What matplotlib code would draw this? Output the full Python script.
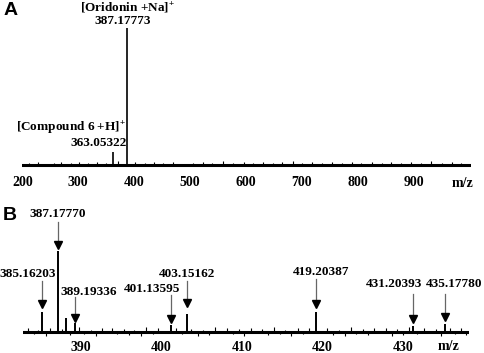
import numpy as np
import matplotlib
matplotlib.use('Agg')
import matplotlib.pyplot as plt

plt.rcParams['font.family'] = 'Liberation Serif'
plt.rcParams['font.weight'] = 'bold'
plt.rcParams['mathtext.fontset'] = 'custom'
plt.rcParams['mathtext.rm'] = 'Liberation Serif:bold'
plt.rcParams['mathtext.it'] = 'Liberation Serif:bold'
plt.rcParams['mathtext.bf'] = 'Liberation Serif:bold'

# ---- panel A: full scan ----
a_peak_mz = [363.05322, 387.17773]
a_peak_int = [9.5, 100.0]
a_ion_names = ['[Compound 6 +H]$^{+}$', '[Oridonin +Na]$^{+}$']
a_noise_mz = [212, 228, 241, 256, 270, 287, 301, 318, 334, 350, 372, 401, 419, 436, 452,
              470, 488, 505, 523, 540, 559, 577, 596, 612, 630, 648, 665, 684, 701, 719,
              737, 754, 772, 790, 806, 825, 843, 860, 878, 896, 914, 931, 950, 968, 985]
a_noise_int = [1.5, 2.2, 1.0, 1.8, 2.5, 1.2, 2.0, 1.4, 2.4, 1.1, 2.6, 1.9, 1.3, 2.1, 1.6,
               2.3, 1.0, 1.8, 2.2, 1.4, 2.6, 1.2, 2.0, 1.5, 2.4, 1.1, 1.9, 2.7, 1.3, 2.2,
               1.7, 2.5, 1.2, 2.0, 1.6, 2.3, 1.1, 2.4, 1.8, 2.1, 1.4, 2.6, 1.2, 1.9, 1.5]
a_ticks = [200, 300, 400, 500, 600, 700, 800, 900]

# ---- panel B: zoom 383-438 ----
b_peak_mz = [385.16203, 387.17770, 388.10, 389.19336, 401.13595, 403.15162, 419.20387, 431.20393, 435.17780]
b_peak_int = [24.0, 100.0, 16.6, 10.4, 8.3, 21.6, 24.4, 7.0, 9.2]
b_label_mz = [385.16203, 387.17770, 389.19336, 401.13595, 403.15162, 419.20387, 431.20393, 435.17780]
b_noise_mz = [383.4, 384.1, 384.6, 385.6, 386.1, 386.6, 387.6, 388.6, 389.7, 390.4, 391.3, 391.9,
              392.6, 393.2, 393.9, 394.5, 395.3, 395.9, 396.6, 397.4, 398.1, 398.9, 399.6, 400.3,
              401.8, 402.5, 403.7, 404.5, 405.2, 405.9, 406.7, 407.4, 408.1, 408.9, 409.6, 410.3,
              411.1, 411.8, 412.5, 413.2, 414.0, 414.7, 415.4, 416.1, 416.9, 417.6, 418.3, 419.8,
              420.6, 421.3, 422.1, 422.8, 423.5, 424.2, 425.0, 425.7, 426.4, 427.1, 427.9, 428.6,
              429.3, 430.0, 430.7, 431.8, 432.6, 433.3, 434.1, 434.7, 435.8, 436.5, 437.2, 437.8]
b_noise_int = [4, -3, 2, -5, 5, -2, 3, -4, 6, -3, 2, -5, 4, -2, 5, -3, 3, -4, 2, -5, 6, -3, 4, -2,
               5, -3, 3, -5, 2, -4, 6, -2, 4, -3, 3, -5, 5, -2, 3, -4, 6, -3, 2, -5, 4, -3, 5, -2,
               4, -4, 2, -5, 6, -3, 3, -4, 5, -2, 4, -5, 3, -4, 6, -3, 4, -2, 3, -5, 5, -3, 4, -4]
b_ticks = [390, 400, 410, 420, 430]

# annotation placement (data units)
a_name_xy = [(286.6, 27.0), (389.0, 114.4)]
a_mass_xy = [(336.2, 16.3), (379.5, 105.1)]
b_text_xy = [(383.4, 71.5), (387.14, 145.8), (391.0, 49.6), (398.8, 52.5),
             (403.13, 71.5), (419.8, 74.3), (428.84, 58.7), (436.4, 59.1)]
b_arrow_top = [62.8, 135.9, 43.0, 45.5, 62.8, 65.3, 46.7, 46.7]
b_arrow_tip = [31.8, 105.0, 14.5, 13.2, 33.0, 31.8, 13.2, 15.4]

W, H = 484, 353
fig = plt.figure(figsize=(W / 100, H / 100), dpi=100)

def px_axes(x0, x1, y0, y1):
    return fig.add_axes([x0 / W, 1 - y1 / H, (x1 - x0) / W, (y1 - y0) / H])

def clean(ax):
    for s in ax.spines.values():
        s.set_visible(False)
    ax.set_yticks([])
    ax.tick_params(axis='x', length=0, labelsize=10, pad=1)
    for lab in ax.get_xticklabels():
        lab.set_fontweight('bold')

# panel A
axA = px_axes(22, 471, 0, 175)
axA.set_xlim(199.5, 1002.7)
axA.set_ylim(-7.3, 120.4)
axA.axhline(0, color='black', lw=2.2)
axA.vlines(a_noise_mz, 0, a_noise_int, color='black', lw=0.8)
axA.vlines(a_peak_mz, 0, a_peak_int, color='black', lw=1.2)
for mz, name, (nx, ny), (mx, my) in zip(a_peak_mz, a_ion_names, a_name_xy, a_mass_xy):
    axA.text(nx, ny, name, ha='center', va='center', fontsize=9.5, fontweight='bold')
    axA.text(mx, my, '%.5f' % mz, ha='center', va='center', fontsize=9.5, fontweight='bold')
axA.set_xticks(a_ticks)
clean(axA)
fig.text(462 / W, 1 - 183 / H, 'm/z', ha='center', va='center', fontsize=10, fontweight='bold')
fig.text(10.5 / W, 1 - 10.5 / H, 'A', ha='center', va='center', fontsize=14, fontweight='bold',
         family='Liberation Sans')

# panel B
axB = px_axes(23, 469, 200, 340)
axB.set_xlim(382.79, 438.2)
axB.set_ylim(-10.3, 163.2)
axB.axhline(0, color='black', lw=2.2)
axB.vlines(b_noise_mz, 0, b_noise_int, color='black', lw=0.8)
axB.vlines(b_peak_mz, 0, b_peak_int, color='black', lw=1.4)
for mz, (tx, ty), top, tip in zip(b_label_mz, b_text_xy, b_arrow_top, b_arrow_tip):
    axB.text(tx, ty, '%.5f' % mz, ha='center', va='center', fontsize=9.5, fontweight='bold', clip_on=False)
    axB.plot([mz, mz], [top, tip + 3], color='#666666', lw=0.9)
    axB.plot(mz, tip + 3, marker='v', color='black', markersize=5.5, clip_on=False)
axB.set_xticks(b_ticks)
clean(axB)
fig.text(449 / W, 1 - 346.7 / H, 'm/z', ha='center', va='center', fontsize=10, fontweight='bold')
fig.text(9.5 / W, 1 - 215.5 / H, 'B', ha='center', va='center', fontsize=14, fontweight='bold',
         family='Liberation Sans')

fig.savefig('out.png', dpi=100)
